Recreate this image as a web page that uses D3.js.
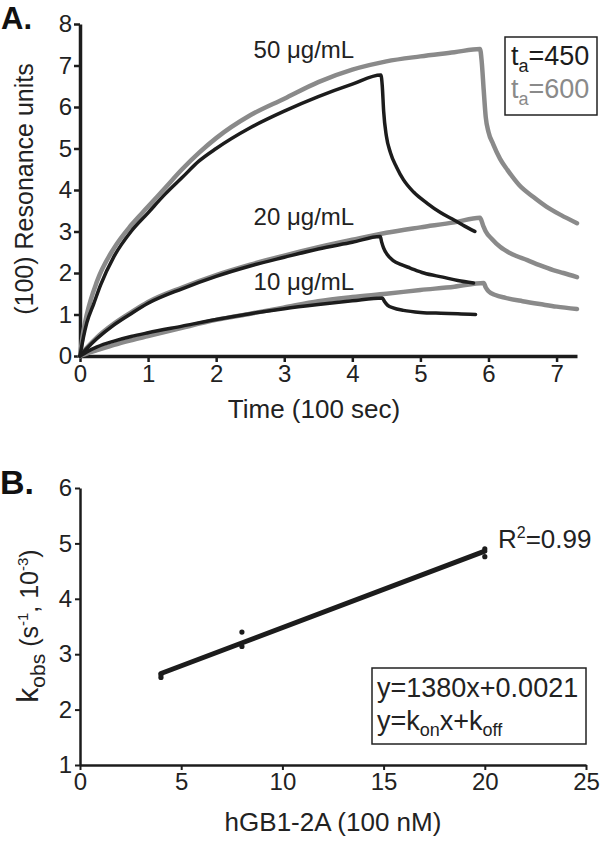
<!DOCTYPE html>
<html><head><meta charset="utf-8">
<script src="https://cdn.jsdelivr.net/npm/d3@7"></script>
<style>
html,body{margin:0;padding:0;background:#fff;}
svg{display:block;font-family:"Liberation Sans",Arial,Helvetica,sans-serif;}
</style></head>
<body>
<svg id="chart" width="600" height="841"></svg>
<script>
// ---------- Panel A data: [time (100 s), response (100 RU)] ----------
const black50 = [[0,0],[0.05,0.45],[0.1,0.8],[0.2,1.25],[0.3,1.7],[0.5,2.4],[0.75,3.0],[1.0,3.45],[1.25,3.9],[1.5,4.3],[1.75,4.7],[2.0,5.0],[2.5,5.5],[3.0,5.9],[3.5,6.25],[4.0,6.55],[4.42,6.77],
  [4.44,6.5],[4.46,5.9],[4.5,5.3],[4.56,4.9],[4.65,4.55],[4.75,4.25],[4.9,3.95],[5.1,3.68],[5.3,3.45],[5.5,3.27],[5.65,3.13],[5.8,3.0]];
const gray50 = [[0,0],[0.05,0.6],[0.1,1.0],[0.25,1.8],[0.5,2.6],[0.75,3.15],[1.0,3.6],[1.25,4.05],[1.5,4.5],[1.75,4.9],[2.0,5.25],[2.5,5.8],[3.0,6.2],[3.5,6.6],[4.0,6.9],[4.5,7.1],[5.0,7.22],[5.5,7.32],[5.875,7.4],
  [5.9,7.1],[5.93,6.4],[5.96,5.75],[6.0,5.4],[6.07,5.1],[6.17,4.75],[6.28,4.48],[6.45,4.12],[6.66,3.83],[6.85,3.6],[7.06,3.4],[7.3,3.2]];
const black20 = [[0,0],[0.1,0.18],[0.25,0.42],[0.5,0.75],[0.75,1.02],[1.0,1.27],[1.5,1.62],[2.0,1.92],[2.5,2.17],[3.0,2.38],[3.5,2.58],[4.0,2.74],[4.41,2.88],
  [4.43,2.75],[4.46,2.6],[4.51,2.45],[4.6,2.3],[4.72,2.2],[4.85,2.12],[5.05,2.0],[5.33,1.9],[5.55,1.82],[5.78,1.76]];
const gray20 = [[0,0],[0.1,0.2],[0.25,0.45],[0.5,0.78],[0.75,1.05],[1.0,1.3],[1.5,1.65],[2.0,1.95],[2.5,2.2],[3.0,2.42],[3.5,2.62],[4.0,2.8],[4.5,2.97],[5.0,3.1],[5.5,3.22],[5.875,3.33],
  [5.92,3.15],[5.96,3.0],[6.05,2.82],[6.17,2.63],[6.35,2.45],[6.57,2.31],[6.75,2.19],[6.95,2.07],[7.1,2.0],[7.3,1.9]];
const black10 = [[0,0],[0.1,0.1],[0.25,0.22],[0.5,0.36],[0.75,0.47],[1.0,0.56],[1.5,0.72],[2.0,0.88],[2.5,1.02],[3.0,1.14],[3.5,1.24],[4.0,1.33],[4.44,1.4],
  [4.47,1.32],[4.52,1.22],[4.6,1.16],[4.75,1.1],[5.0,1.05],[5.3,1.03],[5.55,1.02],[5.81,1.0]];
const gray10 = [[0,0],[0.1,0.06],[0.25,0.14],[0.5,0.27],[0.75,0.38],[1.0,0.48],[1.5,0.68],[2.0,0.87],[2.5,1.02],[3.0,1.17],[3.5,1.32],[4.0,1.42],[4.5,1.5],[5.0,1.59],[5.5,1.67],[5.93,1.76],
  [5.96,1.65],[6.0,1.56],[6.1,1.47],[6.25,1.4],[6.5,1.32],[6.8,1.24],[7.0,1.19],[7.3,1.13]];
const concLabels = ["50 μg/mL","20 μg/mL","10 μg/mL"];
const concLabelPos = [[2.55,7.18],[2.55,3.15],[2.55,1.6]];
const ticksA_x = [0,1,2,3,4,5,6,7];
const ticksA_y = [0,1,2,3,4,5,6,7,8];

// ---------- Panel B data ----------
const conc = [4,4,8,8,20,20];          // hGB1-2A (100 nM)
const kobs = [2.58,2.63,3.14,3.40,4.76,4.90]; // k_obs (10^-3 s^-1)
const fitSlope = 1380, fitIntercept = 0.0021; // y = kon x + koff
const ticksB_x = [0,5,10,15,20,25];
const ticksB_y = [1,2,3,4,5,6];

const BLACK = "#1c1c1c", GRAY = "#8a8a8a";
const svg = d3.select("#chart");

// ================= Panel A =================
const xA = d3.scaleLinear().domain([0,7.3]).range([80,577]);
const yA = d3.scaleLinear().domain([0,8]).range([356,24]);
const lineA = d3.line().x(d=>xA(d[0])).y(d=>yA(d[1])).curve(d3.curveMonotoneX);

const gA = svg.append("g");
const axXA = gA.append("g").attr("transform","translate(0,356)")
  .call(d3.axisBottom(xA).tickValues(ticksA_x).tickFormat(d3.format("d")).tickSize(6).tickSizeOuter(0).tickPadding(3));
const axYA = gA.append("g").attr("transform","translate(80,0)")
  .call(d3.axisLeft(yA).tickValues(ticksA_y).tickFormat(d3.format("d")).tickSize(6).tickSizeOuter(0).tickPadding(2));
[axXA,axYA].forEach(a=>{
  a.select(".domain").attr("stroke",BLACK).attr("stroke-width",3.5);
  a.selectAll(".tick line").attr("stroke",BLACK).attr("stroke-width",2.5);
  a.selectAll(".tick text").attr("font-size",24).attr("fill","#222").attr("font-family","Liberation Sans, Arial");
});

[[gray50,GRAY,4.5],[gray20,GRAY,4.5],[gray10,GRAY,4.5],[black50,BLACK,3.5],[black20,BLACK,3.5],[black10,BLACK,3.5]].forEach(([d,c,w])=>{
  gA.append("path").datum(d).attr("d",lineA).attr("fill","none").attr("stroke",c)
    .attr("stroke-width",w).attr("stroke-linejoin","round").attr("stroke-linecap","round");
});

concLabels.forEach((t,i)=>{
  gA.append("text").attr("x",xA(concLabelPos[i][0])).attr("y",yA(concLabelPos[i][1]))
    .attr("font-size",24).attr("fill","#222").text(t);
});

// legend A
gA.append("rect").attr("x",505).attr("y",37).attr("width",92).attr("height",78)
  .attr("fill","#fff").attr("stroke","#222").attr("stroke-width",1.5);
[["450",BLACK,65],["600",GRAY,98]].forEach(([v,c,y])=>{
  const t = gA.append("text").attr("x",511).attr("y",y).attr("font-size",27).attr("fill",c);
  t.append("tspan").text("t");
  t.append("tspan").attr("font-size",18).attr("dy",7).text("a");
  t.append("tspan").attr("dy",-7).text("=" + v);
});

// axis titles A
gA.append("text").attr("x",314).attr("y",418).attr("text-anchor","middle").attr("font-size",26).attr("fill","#222").text("Time (100 sec)");
gA.append("text").attr("transform","translate(33,189) rotate(-90)").attr("text-anchor","middle").attr("font-size",25).attr("fill","#222").text("(100) Resonance units");
gA.append("text").attr("x",1).attr("y",29).attr("font-size",31).attr("font-weight","bold").attr("fill","#111").text("A.");

// ================= Panel B =================
const xB = d3.scaleLinear().domain([0,25]).range([80,586]);
const yB = d3.scaleLinear().domain([1,6]).range([765,488]);
const gB = svg.append("g");
const axXB = gB.append("g").attr("transform","translate(0,765)")
  .call(d3.axisBottom(xB).tickValues(ticksB_x).tickFormat(d3.format("d")).tickSize(5).tickSizeOuter(0).tickPadding(3));
const axYB = gB.append("g").attr("transform","translate(80,0)")
  .call(d3.axisLeft(yB).tickValues(ticksB_y).tickFormat(d3.format("d")).tickSize(5).tickSizeOuter(0).tickPadding(3));
[axXB,axYB].forEach(a=>{
  a.select(".domain").attr("stroke",BLACK).attr("stroke-width",2.5);
  a.selectAll(".tick line").attr("stroke",BLACK).attr("stroke-width",2);
  a.selectAll(".tick text").attr("font-size",24).attr("fill","#222").attr("font-family","Liberation Sans, Arial");
});

// fit line (from fitted coefficients, units: x in 100 nM, y in 1e-3 s^-1)
const fitY = x => (fitSlope * x * 1e-7 + fitIntercept) * 1e3;
const xr = d3.extent(conc);
gB.append("line").attr("x1",xB(xr[0])).attr("y1",yB(fitY(xr[0]))).attr("x2",xB(xr[1])).attr("y2",yB(fitY(xr[1])))
  .attr("stroke",BLACK).attr("stroke-width",5).attr("stroke-linecap","round");
gB.selectAll("circle.pt").data(conc.map((c,i)=>[c,kobs[i]])).enter().append("circle")
  .attr("cx",d=>xB(d[0])).attr("cy",d=>yB(d[1])).attr("r",2.6).attr("fill",BLACK);

// R^2
const r2 = gB.append("text").attr("x",498).attr("y",548).attr("font-size",26).attr("fill","#222");
r2.append("tspan").text("R");
r2.append("tspan").attr("font-size",16).attr("dy",-10).text("2");
r2.append("tspan").attr("dy",10).text("=0.99");

// legend B
gB.append("rect").attr("x",372).attr("y",668).attr("width",214).attr("height",76)
  .attr("fill","#fff").attr("stroke","#222").attr("stroke-width",1.5);
gB.append("text").attr("x",377).attr("y",697).attr("font-size",27).attr("fill","#222").text("y=1380x+0.0021");
const eq = gB.append("text").attr("x",377).attr("y",730).attr("font-size",27).attr("fill","#222");
eq.append("tspan").text("y=k");
eq.append("tspan").attr("font-size",18).attr("dy",6).text("on");
eq.append("tspan").attr("dy",-6).text("x+k");
eq.append("tspan").attr("font-size",18).attr("dy",6).text("off");

// axis titles B
gB.append("text").attr("x",333).attr("y",831).attr("text-anchor","middle").attr("font-size",26).attr("fill","#222").text("hGB1-2A (100 nM)");
const yt = gB.append("text").attr("transform","translate(38,626) rotate(-90)").attr("text-anchor","middle").attr("font-size",25).attr("fill","#222");
yt.append("tspan").attr("font-size",30).text("k");
yt.append("tspan").attr("font-size",21).attr("dy",7).text("obs");
yt.append("tspan").attr("dy",-7).text(" (s");
yt.append("tspan").attr("font-size",15).attr("dy",-10).text("-1");
yt.append("tspan").attr("dy",10).text(", 10");
yt.append("tspan").attr("font-size",15).attr("dy",-10).text("-3");
yt.append("tspan").attr("dy",10).text(")");
gB.append("text").attr("x",0).attr("y",494).attr("font-size",34).attr("font-weight","bold").attr("fill","#111").text("B.");
</script>
</body></html>
